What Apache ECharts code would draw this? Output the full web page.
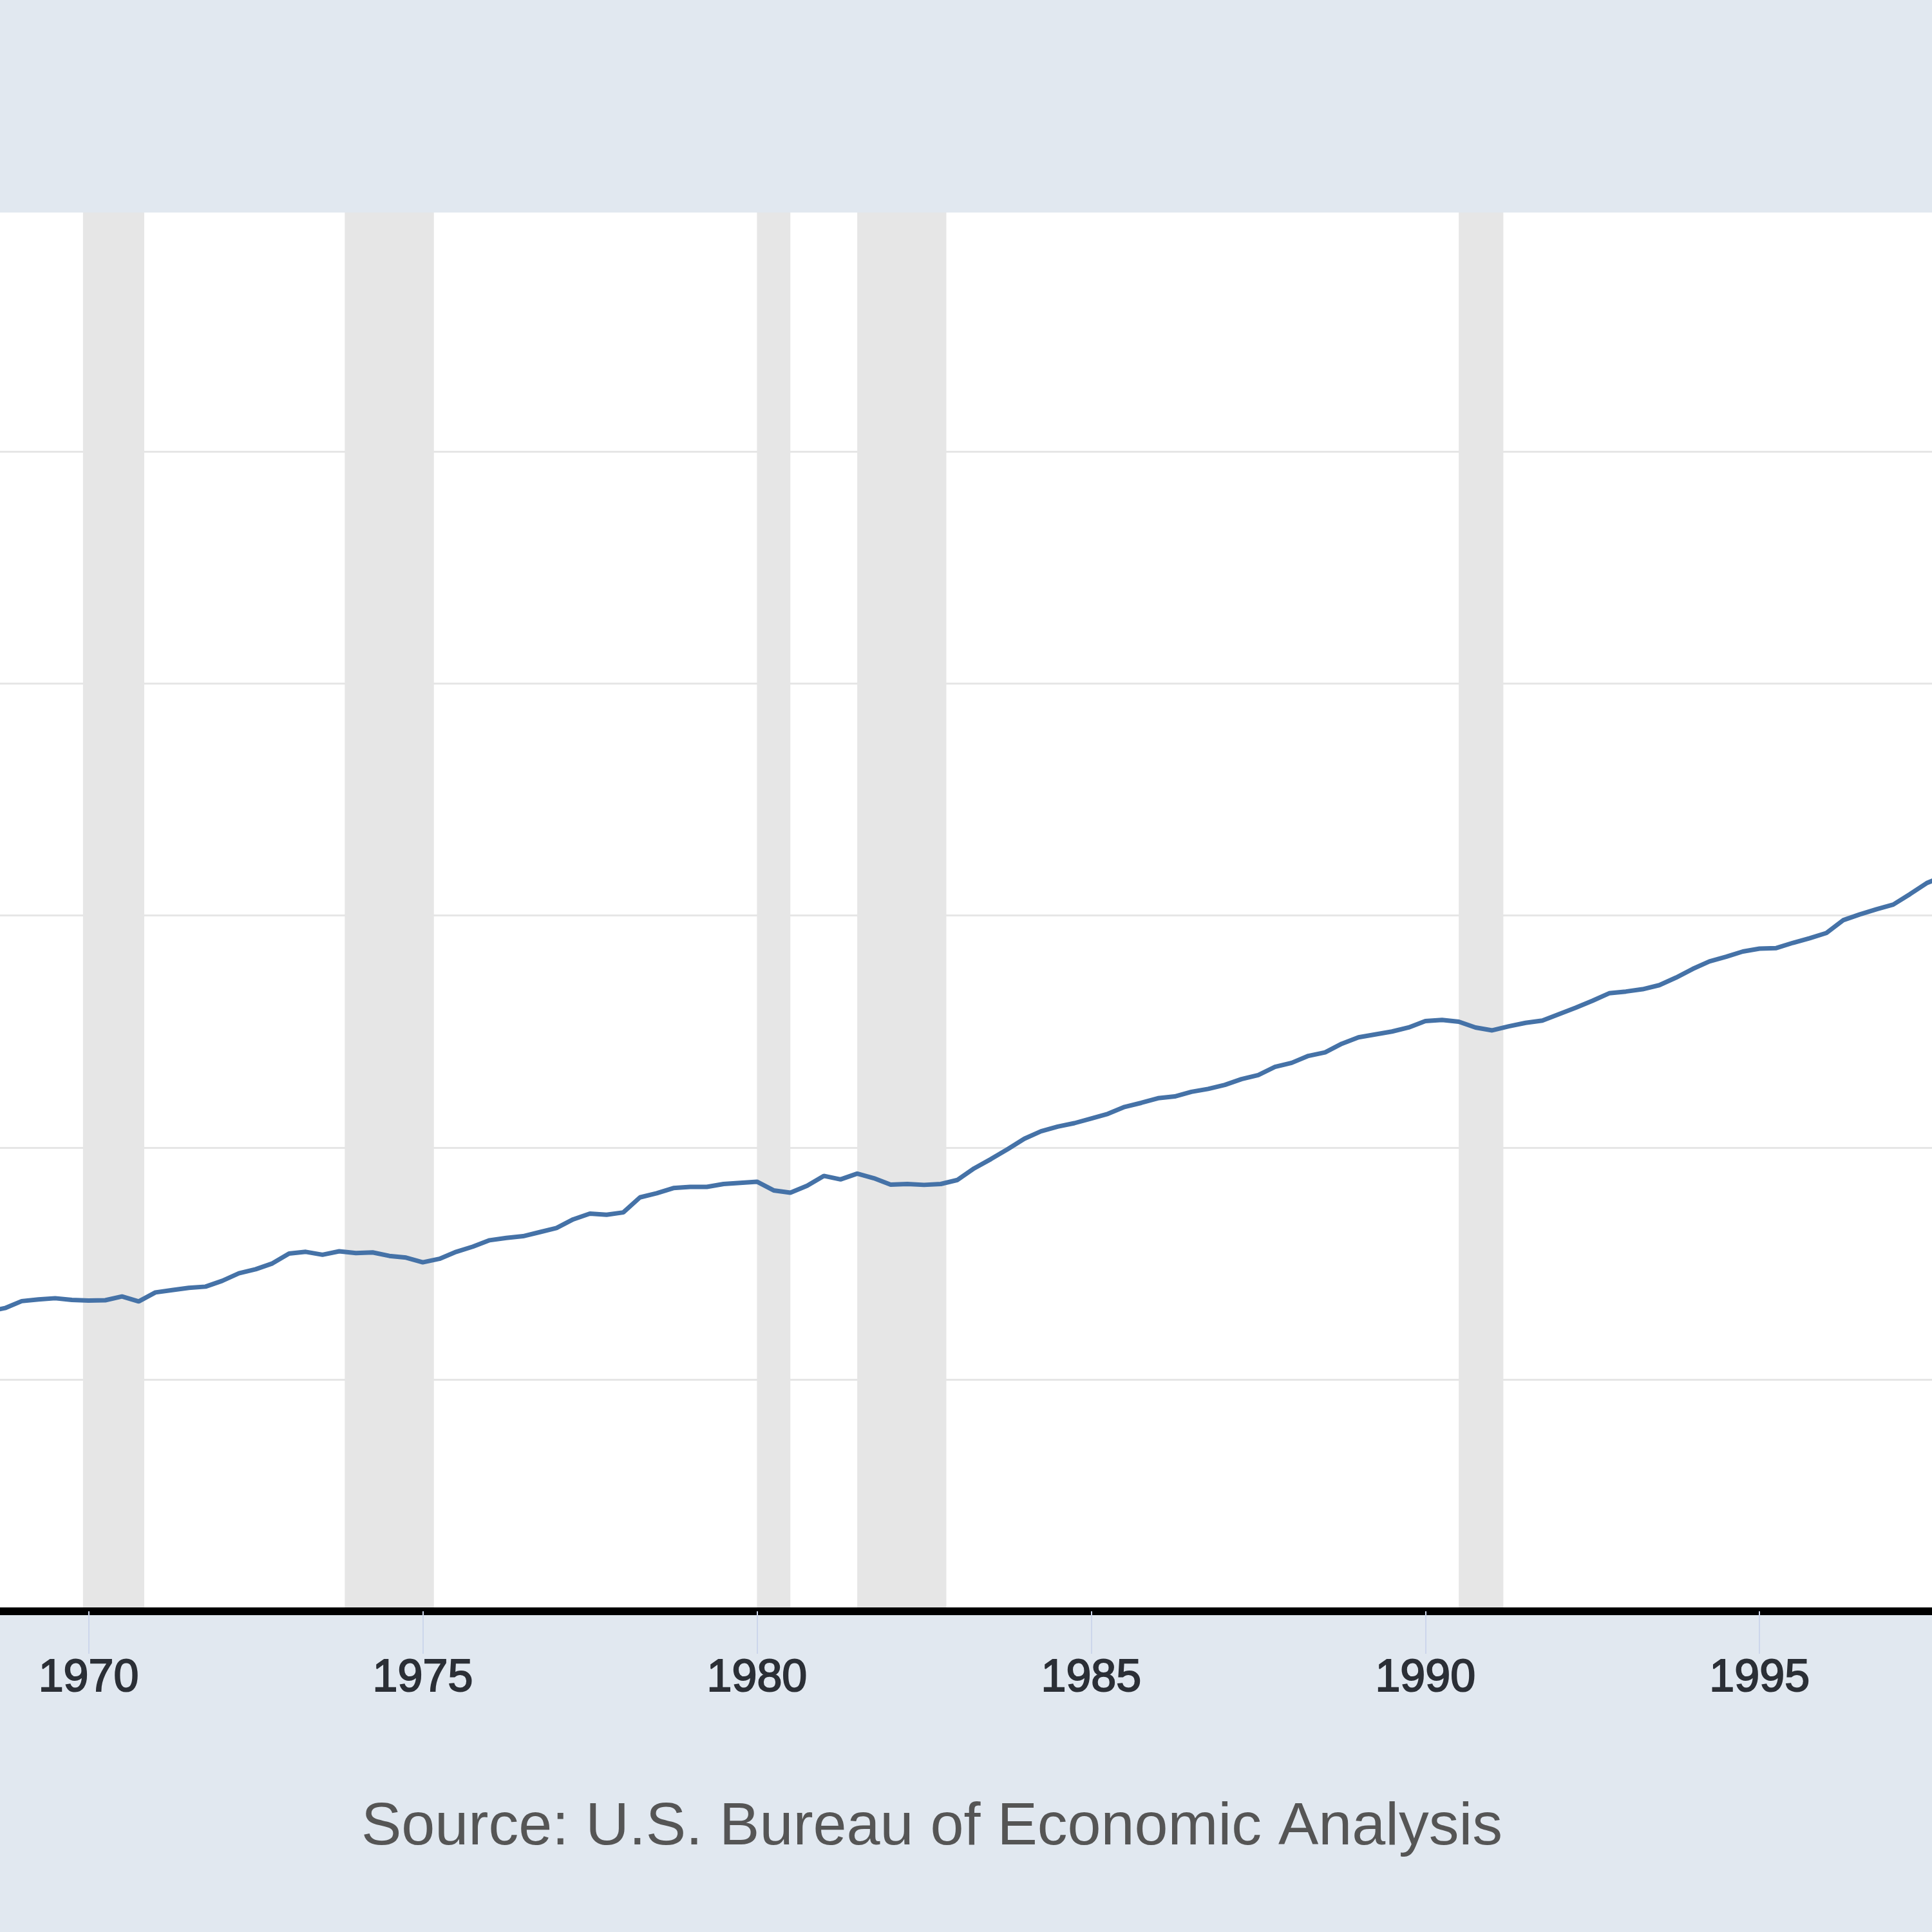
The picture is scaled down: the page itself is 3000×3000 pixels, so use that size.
<!DOCTYPE html>
<html>
<head>
<meta charset="utf-8">
<title>Real GDP</title>
<script src="https://cdn.jsdelivr.net/npm/echarts@6/dist/echarts.min.js"></script>
<style>
html, body { margin: 0; padding: 0; background: #e1e8f0; }
#chart { width: 3000px; height: 3000px; }
</style>
</head>
<body>
<div id="chart"></div>
<script>
// quarterly series, first observation 1968 Q3
var firstYear = 1968;
var firstQuarter = 3;
// billions of chained dollars
var realGdp = [
    5170, 5230,
    5350, 5380, 5400, 5370,   // 1969
    5360, 5365, 5430, 5345,   // 1970
    5500, 5540, 5580, 5600,   // 1971
    5700, 5830, 5900, 6000,   // 1972
    6170, 6200, 6150, 6210,   // 1973
    6180, 6190, 6130, 6100,   // 1974
    6020, 6080, 6200, 6290,   // 1975
    6400, 6440, 6470, 6540,   // 1976
    6610, 6760, 6860, 6840,   // 1977
    6880, 7140, 7210, 7300,   // 1978
    7320, 7320, 7370, 7390,   // 1979
    7410, 7260, 7220, 7340,   // 1980
    7510, 7450, 7550, 7470,   // 1981
    7360, 7370, 7355, 7370,   // 1982
    7440, 7640, 7800, 7970,   // 1983
    8150, 8280, 8360, 8420,   // 1984
    8500, 8580, 8700, 8770,   // 1985
    8850, 8880, 8960, 9010,   // 1986
    9080, 9180, 9250, 9390,   // 1987
    9460, 9580, 9640, 9790,   // 1988
    9900, 9950, 10000, 10070, // 1989
    10180, 10200, 10170, 10070, // 1990
    10020, 10090, 10150, 10190, // 1991
    10300, 10410, 10530, 10660, // 1992
    10690, 10730, 10800, 10930, // 1993
    11080, 11210, 11290, 11380, // 1994
    11430, 11440, 11530, 11610, // 1995
    11700, 11920, 12020, 12110, // 1996
    12190, 12370, 12560, 12680  // 1997
];
var tickYears = [1970, 1975, 1980, 1985, 1990, 1995];
// NBER recessions (peak month, trough month)
var recessions = [
    ['1969-12', '1970-11'],
    ['1973-11', '1975-03'],
    ['1980-01', '1980-07'],
    ['1981-07', '1982-11'],
    ['1990-07', '1991-03']
];
var viewStart = 1968.675, viewEnd = 1997.58;

function decYear(ym){
    var p = ym.split('-');
    return +p[0] + (p[1] - 1) / 12;
}

var points = realGdp.map(function(v, i){
    return [firstYear + (firstQuarter - 1 + i) / 4, v];
});
var bands = recessions.map(function(r){
    return [{xAxis: decYear(r[0])}, {xAxis: decYear(r[1])}];
});

var font = '"Liberation Sans", Arial, sans-serif';
var chart = echarts.init(document.getElementById('chart'));
chart.setOption({
    animation: false,
    backgroundColor: '#e1e8f0',
    grid: {left: 0, right: 0, top: 330, bottom: 498, show: true, backgroundColor: '#ffffff', borderWidth: 0},
    xAxis: {
        type: 'value', min: viewStart, max: viewEnd, z: 5,
        axisLine: {lineStyle: {color: '#000000', width: 12}},
        axisTick: {customValues: tickYears, length: 66, lineStyle: {color: '#ccd6eb', width: 2}},
        axisLabel: {
            customValues: tickYears, margin: 70, fontSize: 70, color: '#2b2f36', fontFamily: font,
            textBorderColor: '#2b2f36', textBorderWidth: 2,
            formatter: function(v){ return String(v); }
        },
        splitLine: {show: false}
    },
    yAxis: {
        type: 'value', min: 0, max: 24127, interval: 4000,
        axisLine: {show: false}, axisTick: {show: false}, axisLabel: {show: false},
        splitLine: {lineStyle: {
            color: ['#e6e6e6', '#e6e6e6', '#e6e6e6', '#e6e6e6', '#e6e6e6', '#e6e6e6', 'rgba(0,0,0,0)', 'rgba(0,0,0,0)'],
            width: 3
        }}
    },
    series: [{
        name: 'Real GDP', type: 'line', data: points,
        showSymbol: false, z: 3,
        lineStyle: {color: '#4572a7', width: 7},
        markArea: {silent: true, itemStyle: {color: '#e6e6e6'}, data: bands}
    }],
    graphic: [{
        type: 'text',
        style: {
            x: 561, y: 2838, verticalAlign: 'middle',
            text: 'Source: U.S. Bureau of Economic Analysis',
            font: '93.5px ' + font, fill: '#555555'
        }
    }]
});
</script>
</body>
</html>
